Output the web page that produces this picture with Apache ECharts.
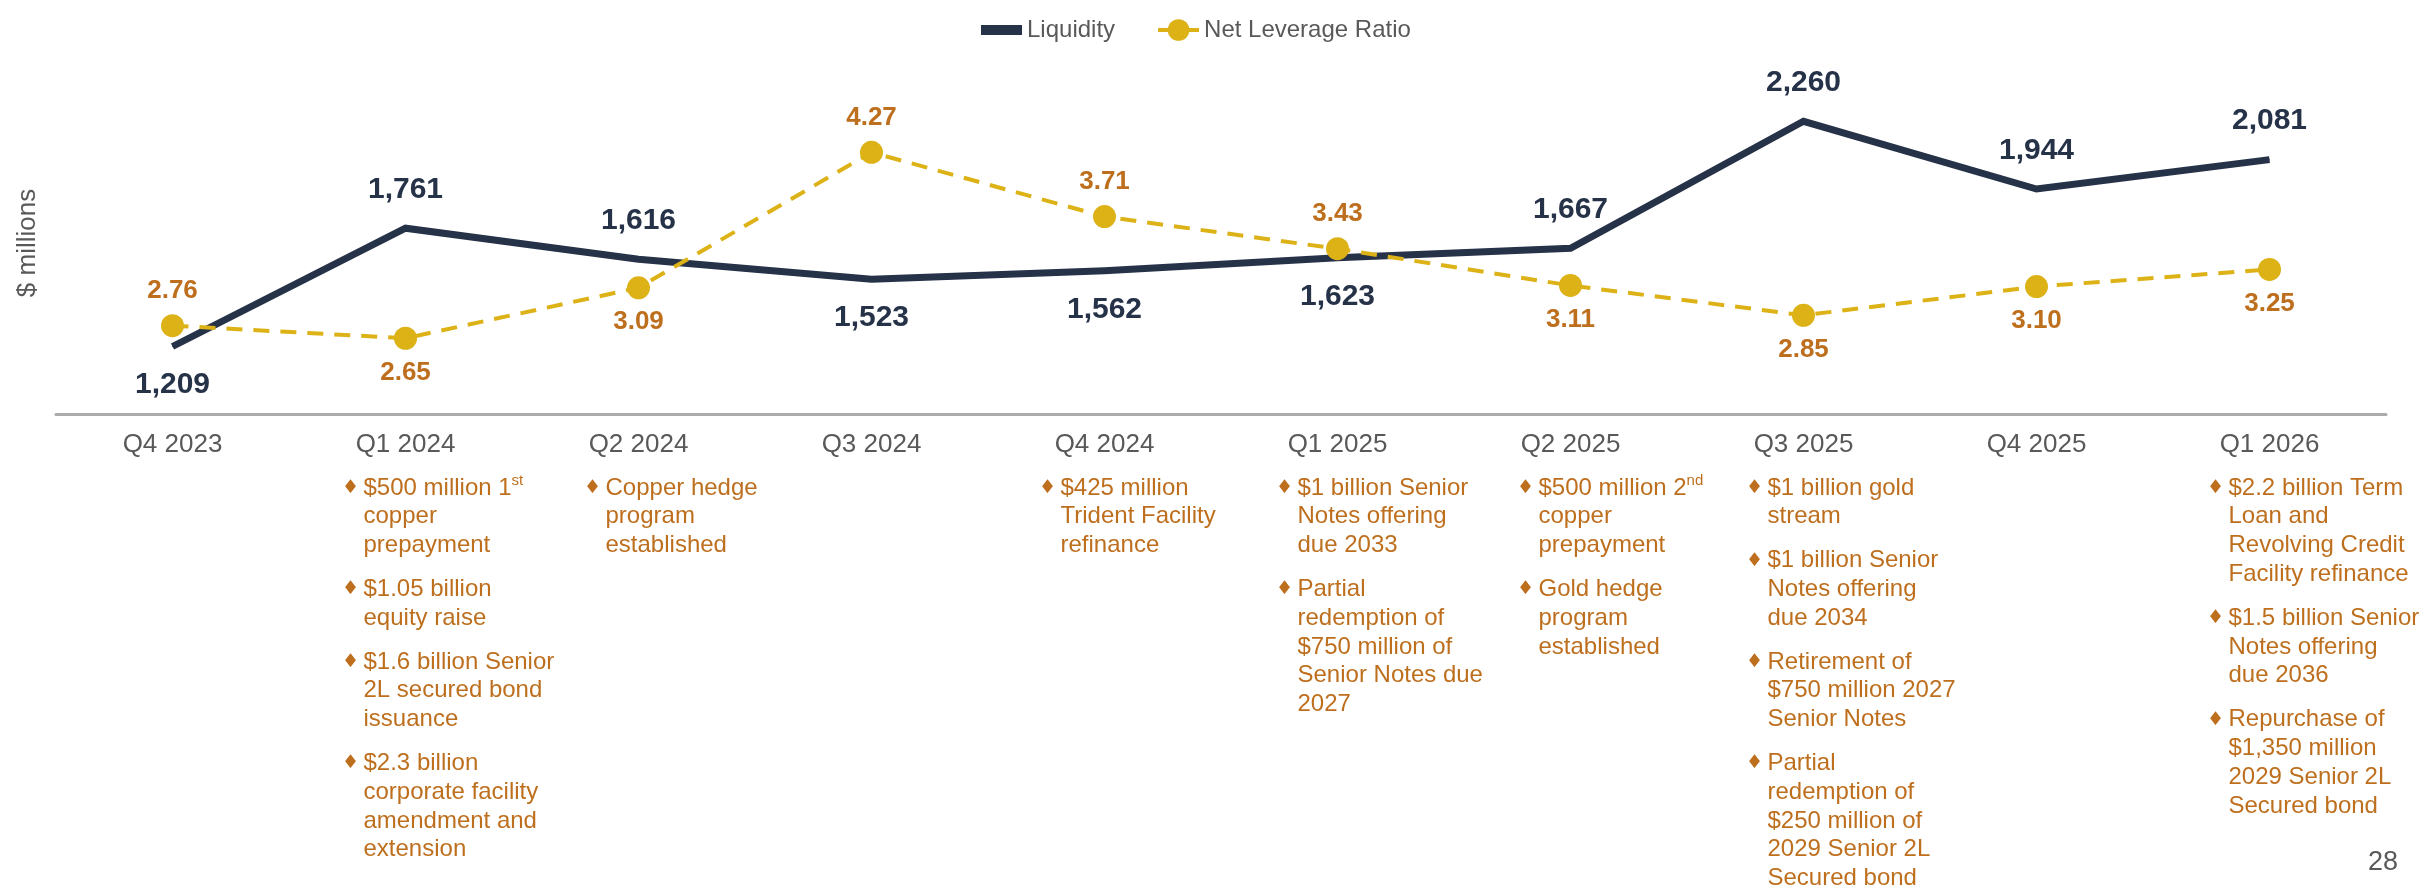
<!DOCTYPE html>
<html>
<head>
<meta charset="utf-8">
<script src="https://cdn.jsdelivr.net/npm/echarts@6/dist/echarts.min.js"></script>
<style>
  html, body { margin: 0; background: #fff; }
  #chart { width: 2422px; height: 888px; }
</style>
</head>
<body>
<div id="chart"></div>
<script>
const quarters = ["Q4 2023", "Q1 2024", "Q2 2024", "Q3 2024", "Q4 2024", "Q1 2025", "Q2 2025", "Q3 2025", "Q4 2025", "Q1 2026"];
const liquidity = [1209, 1761, 1616, 1523, 1562, 1623, 1667, 2260, 1944, 2081];
const netLeverage = [2.76, 2.65, 3.09, 4.27, 3.71, 3.43, 3.11, 2.85, 3.10, 3.25];

// which side of the point each value label sits on
const liquidityLabelSide = ["bottom", "top", "top", "bottom", "bottom", "bottom", "top", "top", "top", "top"];
const leverageLabelSide = ["top", "bottom", "bottom", "top", "top", "top", "bottom", "bottom", "bottom", "bottom"];

// financing events under each quarter, one inner list per bullet (lines as on the slide)
const notes = [
  [],
  [
    ["$500 million 1{sup|st}", "copper", "prepayment"],
    ["$1.05 billion", "equity raise"],
    ["$1.6 billion Senior", "2L secured bond", "issuance"],
    ["$2.3 billion", "corporate facility", "amendment and", "extension"],
  ],
  [["Copper hedge", "program", "established"]],
  [],
  [["$425 million", "Trident Facility", "refinance"]],
  [
    ["$1 billion Senior", "Notes offering", "due 2033"],
    ["Partial", "redemption of", "$750 million of", "Senior Notes due", "2027"],
  ],
  [
    ["$500 million 2{sup|nd}", "copper", "prepayment"],
    ["Gold hedge", "program", "established"],
  ],
  [
    ["$1 billion gold", "stream"],
    ["$1 billion Senior", "Notes offering", "due 2034"],
    ["Retirement of", "$750 million 2027", "Senior Notes"],
    ["Partial", "redemption of", "$250 million of", "2029 Senior 2L", "Secured bond"],
  ],
  [],
  [
    ["$2.2 billion Term", "Loan and", "Revolving Credit", "Facility refinance"],
    ["$1.5 billion Senior", "Notes offering", "due 2036"],
    ["Repurchase of", "$1,350 million", "2029 Senior 2L", "Secured bond"],
  ],
];
// left edge of each note column relative to its quarter's centre
const noteShift = [0, -42, -33, 0, -44, -40, -32, -36, 0, -41];

const FONT = '"Liberation Sans", Arial, Helvetica, sans-serif';
const NAVY = "#263248";
const GOLD = "#DCB216";
const BROWN = "#BE6F1E";
const GREY = "#595959";
const LINE_H = 28.8;
const NOTE_GAP = 15;

const chart = echarts.init(document.getElementById("chart"));

chart.setOption({
  animation: false,
  grid: { left: 56, right: 36, top: 72, bottom: 474 },
  legend: {
    left: 971,
    top: 13,
    itemWidth: 41,
    itemHeight: 27,
    itemGap: 41,
    textStyle: { fontFamily: FONT, fontSize: 24, color: GREY },
    data: [
      { name: "Liquidity", itemStyle: { opacity: 0 }, lineStyle: { width: 10 } },
      { name: "Net Leverage Ratio", lineStyle: { width: 4, type: "solid" } },
    ],
  },
  xAxis: {
    type: "category",
    data: quarters,
    boundaryGap: true,
    axisLine: { lineStyle: { color: "#ABABAB", width: 3 } },
    axisTick: { show: false },
    axisLabel: { fontFamily: FONT, fontSize: 26, color: GREY, margin: 18 },
  },
  yAxis: [
    {
      type: "value",
      min: 894,
      max: 2490,
      name: "$ millions",
      nameLocation: "middle",
      nameRotate: 90,
      nameGap: 15,
      nameTextStyle: { fontFamily: FONT, fontSize: 26, color: GREY },
      axisLine: { show: false },
      axisTick: { show: false },
      axisLabel: { show: false },
      splitLine: { show: false },
    },
    {
      type: "value",
      min: 1.99,
      max: 4.97,
      show: false,
      splitLine: { show: false },
    },
  ],
  series: [
    {
      name: "Liquidity",
      type: "line",
      yAxisIndex: 0,
      symbol: "circle",
      symbolSize: 1,
      itemStyle: { color: NAVY },
      lineStyle: { color: NAVY, width: 7, join: "miter" },
      label: {
        show: true,
        distance: 23,
        fontFamily: FONT,
        fontSize: 30,
        fontWeight: "bold",
        color: NAVY,
        formatter: (p) => p.value.toLocaleString("en-US"),
      },
      data: liquidity.map((v, i) => ({ value: v, label: { position: liquidityLabelSide[i] } })),
    },
    {
      name: "Net Leverage Ratio",
      type: "line",
      yAxisIndex: 1,
      symbol: "circle",
      symbolSize: 23,
      itemStyle: { color: GOLD },
      lineStyle: { color: GOLD, width: 4, type: [16, 11] },
      label: {
        show: true,
        distance: 10,
        fontFamily: FONT,
        fontSize: 26,
        fontWeight: "bold",
        color: BROWN,
        formatter: (p) => p.value.toFixed(2),
      },
      data: netLeverage.map((v, i) => ({ value: v, label: { position: leverageLabelSide[i] } })),
    },
  ],
});

function drawNotes() {
  const elements = [];
  const noteTop = 488 - LINE_H / 2;
  quarters.forEach((q, i) => {
    if (!notes[i].length) return;
    const textX = chart.convertToPixel({ xAxisIndex: 0 }, q) + noteShift[i];
    let y = noteTop;
    notes[i].forEach((lines) => {
      elements.push({
        type: "text",
        x: textX - 13,
        y: y + LINE_H / 2,
        style: {
          text: "\u2666",
          fontFamily: '"DejaVu Sans", sans-serif',
          fontSize: 19,
          fill: BROWN,
          align: "center",
          verticalAlign: "middle",
        },
      });
      elements.push({
        type: "text",
        x: textX,
        y: y,
        style: {
          text: lines.join("\n"),
          fontFamily: FONT,
          fontSize: 24,
          lineHeight: LINE_H,
          fill: BROWN,
          align: "left",
          verticalAlign: "top",
          rich: {
            sup: { fontFamily: FONT, fontSize: 15, lineHeight: 16, verticalAlign: "top", fill: BROWN },
          },
        },
      });
      y += lines.length * LINE_H + NOTE_GAP;
    });
  });
  elements.push({
    type: "text",
    x: 2398,
    y: 863,
    style: { text: "28", fontFamily: FONT, fontSize: 27, fill: GREY, align: "right", verticalAlign: "middle" },
  });
  chart.setOption({ graphic: { elements } });
}

drawNotes();
</script>
</body>
</html>
